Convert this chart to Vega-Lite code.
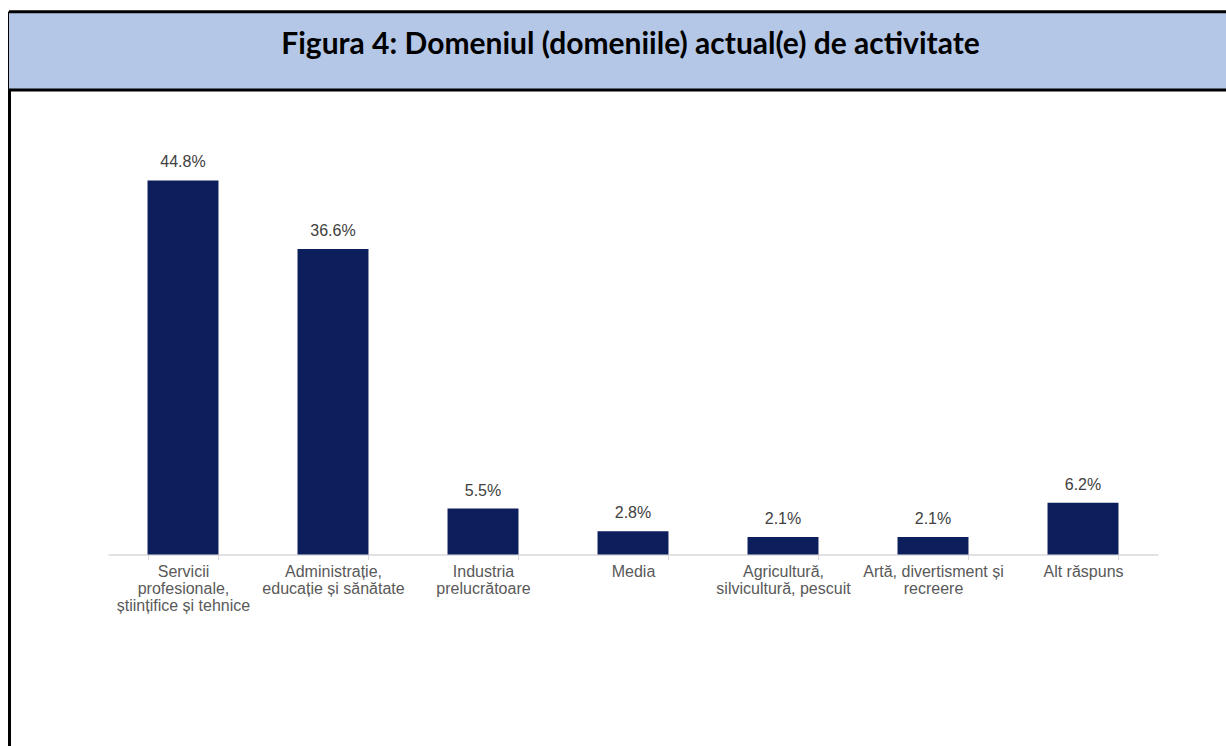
{
  "$schema": "https://vega.github.io/schema/vega-lite/v6.json",
  "autosize": {"type": "none"},
  "padding": {"left": 9, "top": 11, "right": 0, "bottom": 0},
  "width": 1217,
  "height": 735,
  "background": "white",
  "config": {"view": {"stroke": null}},
  "layer": [
    {
      "data": {"values": [{"title": "Figura 4: Domeniul (domeniile) actual(e) de activitate"}]},
      "mark": {"type": "rect", "color": "#b4c7e7"},
      "encoding": {
        "y": {"datum": 55.63, "type": "quantitative", "scale": {"domain": [-22.93, 65.09], "nice": false, "zero": false}},
        "y2": {"datum": 65.09}
      }
    },
    {
      "data": {"values": [{"title": "Figura 4: Domeniul (domeniile) actual(e) de activitate"}]},
      "mark": {"type": "rule", "color": "black", "strokeWidth": 3},
      "encoding": {"y": {"datum": 55.63, "type": "quantitative"}}
    },
    {
      "data": {"values": [{"title": "Figura 4: Domeniul (domeniile) actual(e) de activitate"}]},
      "mark": {"type": "rule", "color": "black", "strokeWidth": 3},
      "encoding": {"y": {"datum": 65.0, "type": "quantitative"}}
    },
    {
      "data": {"values": [{"title": "Figura 4: Domeniul (domeniile) actual(e) de activitate"}]},
      "mark": {"type": "text", "font": "Lato", "fontWeight": "bold", "fontSize": 30, "color": "#000000", "baseline": "alphabetic", "align": "center", "dx": 13},
      "encoding": {
        "y": {"datum": 59.95, "type": "quantitative"},
        "text": {"field": "title"}
      }
    },
    {
      "data": {"name": "bars", "values": [
        {"domeniu": "Servicii|profesionale,|științifice și tehnice", "procent": 44.8, "eticheta": "44.8%"},
        {"domeniu": "Administrație,|educație și sănătate", "procent": 36.6, "eticheta": "36.6%"},
        {"domeniu": "Industria|prelucrătoare", "procent": 5.5, "eticheta": "5.5%"},
        {"domeniu": "Media", "procent": 2.8, "eticheta": "2.8%"},
        {"domeniu": "Agricultură,|silvicultură, pescuit", "procent": 2.1, "eticheta": "2.1%"},
        {"domeniu": "Artă, divertisment și|recreere", "procent": 2.1, "eticheta": "2.1%"},
        {"domeniu": "Alt răspuns", "procent": 6.2, "eticheta": "6.2%"}
      ]},
      "encoding": {
        "x": {
          "field": "domeniu", "type": "nominal", "sort": null,
          "scale": {"range": [99, 1149], "paddingInner": 0.527, "paddingOuter": 0.2635, "align": 0.5},
          "axis": {
            "title": null, "orient": "bottom", "offset": -191.5,
            "labelAngle": 0, "labelExpr": "split(datum.label, '|')",
            "labelFont": "Liberation Sans", "labelFontSize": 16, "labelColor": "#595959",
            "labelLineHeight": 17, "labelPadding": 4, "labelLimit": 200,
            "domainColor": "#d9d9d9", "domainWidth": 1.5,
            "tickBand": "extent", "tickColor": "#d9d9d9", "tickSize": 5, "tickWidth": 1
          }
        },
        "y": {
          "field": "procent", "type": "quantitative",
          "axis": {"title": null, "labels": false, "ticks": false, "grid": false, "domain": true, "domainColor": "black", "domainWidth": 3}
        }
      },
      "layer": [
        {"mark": {"type": "bar", "color": "#0c1f5c"}},
        {
          "mark": {"type": "text", "font": "Liberation Sans", "fontSize": 16, "color": "#404040", "baseline": "alphabetic", "dy": -13},
          "encoding": {"text": {"field": "eticheta"}}
        }
      ]
    }
  ]
}
